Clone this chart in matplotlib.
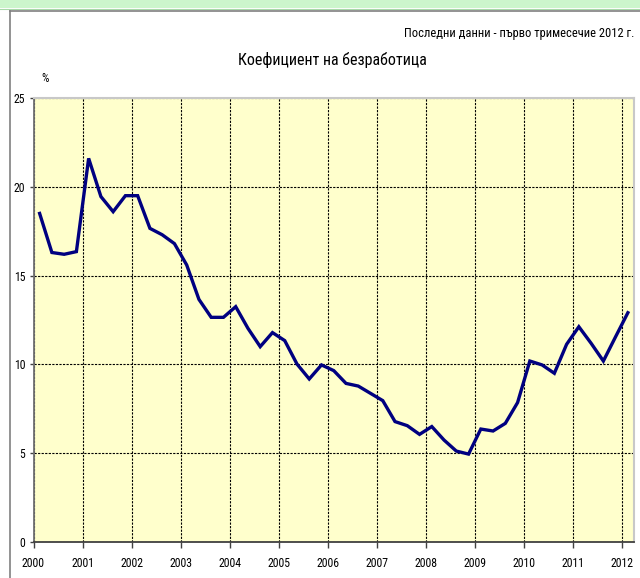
import matplotlib
matplotlib.use("Agg")
import matplotlib.pyplot as plt
from matplotlib import font_manager as fm
from matplotlib.lines import Line2D
from matplotlib.patches import Rectangle

# ---- data (quarterly unemployment rate, %) ----
years = list(range(2000, 2013))
year_labels = [str(y) for y in years]
rate_2000 = [18.5, 16.3, 16.2, 16.35]
rate_2001 = [21.6, 19.45, 18.6, 19.5]
rate_2002 = [19.5, 17.66, 17.3, 16.8]
rate_2003 = [15.6, 13.66, 12.65, 12.65]
rate_2004 = [13.25, 12.03, 11.0, 11.79]
rate_2005 = [11.34, 10.02, 9.18, 9.97]
rate_2006 = [9.65, 8.93, 8.78, 8.37]
rate_2007 = [7.96, 6.78, 6.55, 6.06]
rate_2008 = [6.5, 5.74, 5.12, 4.95]
rate_2009 = [6.36, 6.25, 6.68, 7.85]
rate_2010 = [10.19, 9.97, 9.5, 11.13]
rate_2011 = [12.12, 11.19, 10.19, 11.56]
rate_2012 = [12.91]
y_ticks = [0, 5, 10, 15, 20, 25]

rates = (rate_2000 + rate_2001 + rate_2002 + rate_2003 + rate_2004 + rate_2005 +
         rate_2006 + rate_2007 + rate_2008 + rate_2009 + rate_2010 + rate_2011 + rate_2012)
# quarter midpoints
xq = [2000 + 0.125 + 0.25 * i for i in range(len(rates))]


# ---- font selection (prefer a narrow, non-bold sans) ----
def wnum(w):
    if isinstance(w, (int, float)):
        return w
    return fm.weight_dict.get(str(w).lower(), 400)


fam, weight = "Liberation Sans", "normal"
for cand in ["Liberation Sans Narrow", "Roboto Condensed", "Open Sans Condensed",
             "Noto Sans Condensed", "Open Sans Condensed Light"]:
    ws = [wnum(f.weight) for f in fm.fontManager.ttflist if f.name == cand]
    light = [w for w in ws if w < 500]
    if light:
        fam = cand
        weight = min(light, key=lambda w: abs(w - 400))
        break
plt.rcParams["font.family"] = [fam, "DejaVu Sans"]
plt.rcParams["font.weight"] = weight

W, H = 640, 578
fig = plt.figure(figsize=(W / 100, H / 100), dpi=100)
fig.patch.set_facecolor("white")

# top green strip
fig.patches.append(Rectangle((0, 1 - 8 / H), 1, 8 / H, transform=fig.transFigure,
                             facecolor="#ccf5cc", edgecolor="none", zorder=0))
fig.lines.append(Line2D([0, 1], [1 - 8.5 / H, 1 - 8.5 / H], transform=fig.transFigure,
                        color="#a8d8a8", lw=0.8))
# outer frame
fig.lines.append(Line2D([9.5 / W, 9.5 / W], [0, 1 - 10.5 / H], transform=fig.transFigure,
                        color="#808080", lw=1.2))
fig.lines.append(Line2D([9.5 / W, 1], [1 - 10.5 / H, 1 - 10.5 / H], transform=fig.transFigure,
                        color="#808080", lw=1.2))

left, right, top, bottom = 33.5, 634, 98, 542
ax = fig.add_axes([left / W, (H - bottom) / H, (right - left) / W, (bottom - top) / H])
ax.set_facecolor("#ffffcc")

ax.plot(xq, rates, color="#000080", lw=2.4, solid_joinstyle="miter", zorder=3)

ax.set_xlim(2000, 2012.25)
ax.set_ylim(0, 25)
ax.set_xticks(years)
ax.set_xticklabels(year_labels)
ax.set_yticks(y_ticks)
ax.grid(True, color="black", lw=0.8, linestyle=(0, (2, 1.2)), zorder=1)

for s in ["top", "right"]:
    ax.spines[s].set_color("#c8c8c8")
    ax.spines[s].set_linewidth(1.5)
ax.spines["left"].set_color("#707070")
ax.spines["left"].set_linewidth(1.3)
ax.spines["bottom"].set_color("#404040")
ax.spines["bottom"].set_linewidth(1.3)

ax.tick_params(axis="x", direction="out", length=4, width=1, color="#404040",
               pad=7, labelsize=8.5)
ax.tick_params(axis="y", direction="out", length=3, width=1, color="#404040",
               pad=3, labelsize=8.5)

fig.text(634 / W, 1 - 33 / H, "Последни данни - първо тримесечие 2012 г.",
         ha="right", va="center", fontsize=9)
fig.text(332 / W, 1 - 60 / H, "Коефициент на безработица",
         ha="center", va="center", fontsize=11.5)
fig.text(45 / W, 1 - 78 / H, "%", ha="center", va="center", fontsize=8.5)

fig.savefig("out.png", dpi=100)
